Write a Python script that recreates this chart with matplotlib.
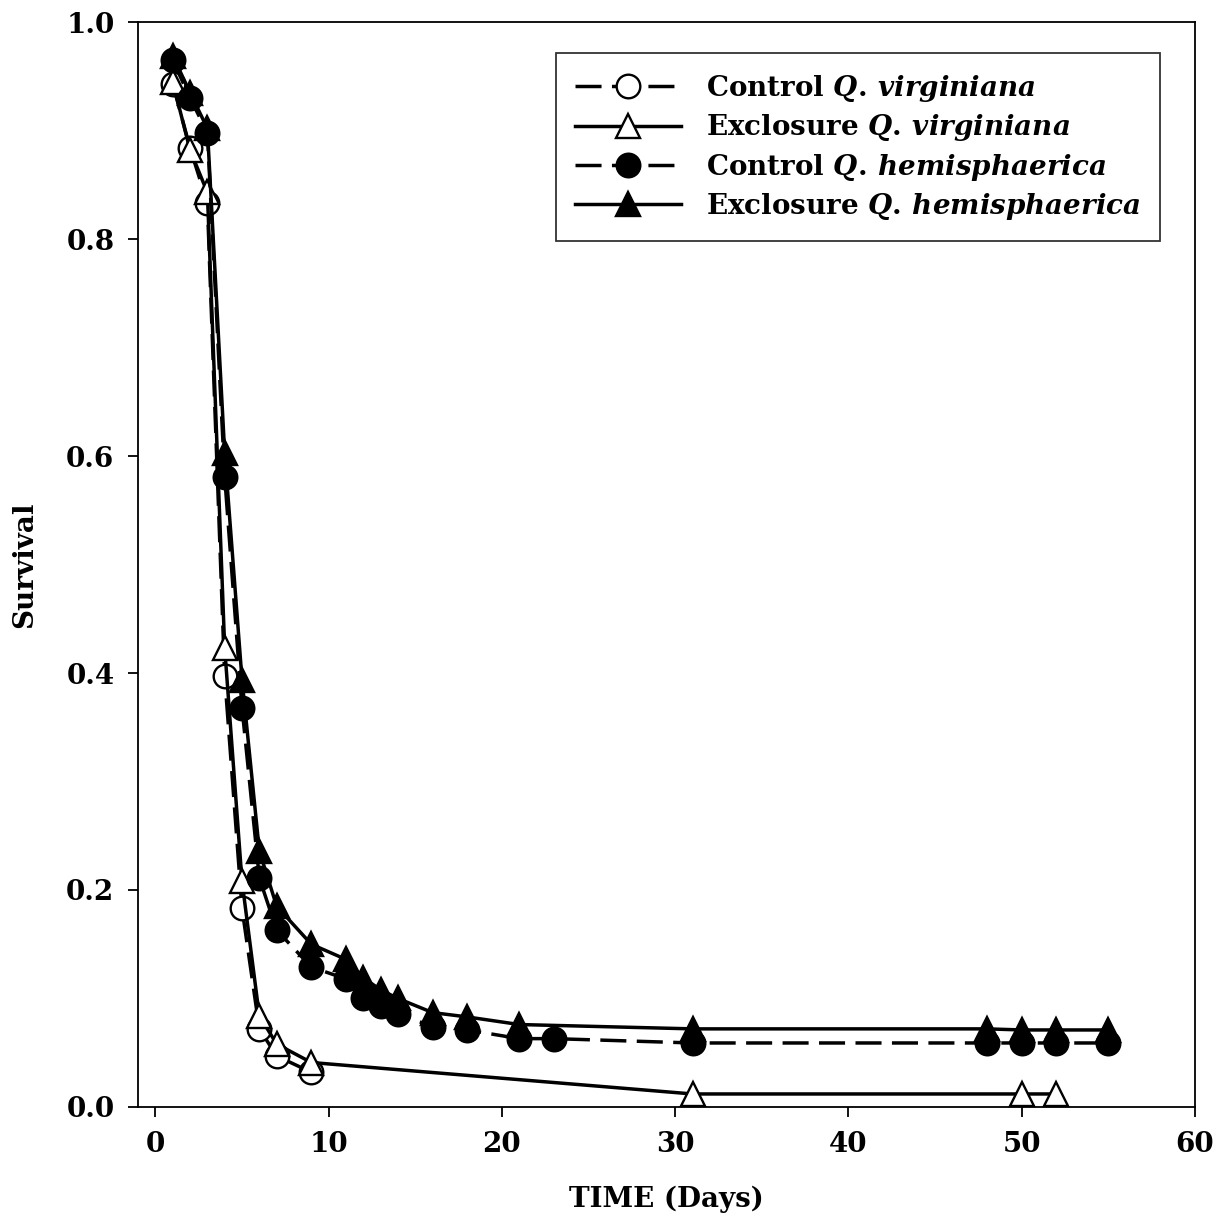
import matplotlib
matplotlib.use("Agg")
import matplotlib.pyplot as plt

plt.rcParams['font.family'] = ['DejaVu Serif']
plt.rcParams['font.weight'] = 'bold'
plt.rcParams['mathtext.fontset'] = 'custom'
plt.rcParams['mathtext.it'] = 'DejaVu Serif:italic:bold'
plt.rcParams['mathtext.bf'] = 'DejaVu Serif:bold'
plt.rcParams['mathtext.rm'] = 'DejaVu Serif:bold'

# Survival over time for each treatment / species
days_cv = [1, 2, 3, 4, 5, 6, 7, 9]
surv_cv = [0.943, 0.884, 0.833, 0.397, 0.183, 0.072, 0.047, 0.032]

days_ev = [1, 2, 3, 4, 5, 6, 7, 9, 31, 50, 52]
surv_ev = [0.945, 0.882, 0.843, 0.423, 0.208, 0.084, 0.058, 0.041, 0.012, 0.012, 0.012]

days_ch = [1, 2, 3, 4, 5, 6, 7, 9, 11, 12, 13, 14, 16, 18, 21, 23, 31, 48, 50, 52, 55]
surv_ch = [0.965, 0.930, 0.898, 0.581, 0.368, 0.211, 0.163, 0.129, 0.118, 0.100,
           0.093, 0.086, 0.074, 0.071, 0.063, 0.063, 0.059, 0.059, 0.059, 0.059, 0.059]

days_eh = [1, 2, 3, 4, 5, 6, 7, 9, 11, 12, 13, 14, 16, 18, 21, 31, 48, 50, 52, 55]
surv_eh = [0.969, 0.935, 0.902, 0.603, 0.394, 0.236, 0.185, 0.150, 0.136, 0.119,
           0.108, 0.100, 0.087, 0.083, 0.076, 0.072, 0.072, 0.071, 0.071, 0.071]

labels = [r"Control $\mathit{Q.\,virginiana}$",
          r"Exclosure $\mathit{Q.\,virginiana}$",
          r"Control $\mathit{Q.\,hemisphaerica}$",
          r"Exclosure $\mathit{Q.\,hemisphaerica}$"]

fig = plt.figure(figsize=(12.25, 12.24), dpi=100)
ax = fig.add_axes([0.1127, 0.0956, 0.8628, 0.8864])

lw = 2.5
ms = 17
mew = 1.7

ax.plot(days_cv, surv_cv, color='black', lw=lw, dashes=(7.5, 3), marker='o', ms=ms,
        mfc='white', mec='black', mew=mew, label=labels[0], zorder=3)
ax.plot(days_ev, surv_ev, color='black', lw=lw, ls='-', marker='^', ms=ms,
        mfc='white', mec='black', mew=mew, label=labels[1], zorder=4)
ax.plot(days_ch, surv_ch, color='black', lw=lw, dashes=(7.5, 3), marker='o', ms=ms,
        mfc='black', mec='black', mew=mew, label=labels[2], zorder=5)
ax.plot(days_eh, surv_eh, color='black', lw=lw, ls='-', marker='^', ms=ms,
        mfc='black', mec='black', mew=mew, label=labels[3], zorder=6)

ax.set_xlim(-1, 60)
ax.set_ylim(0, 1.0)
ax.set_xticks([0, 10, 20, 30, 40, 50, 60])
ax.set_yticks([0.0, 0.2, 0.4, 0.6, 0.8, 1.0])
ax.set_yticklabels(['0.0', '0.2', '0.4', '0.6', '0.8', '1.0'])
ax.tick_params(direction='out', length=7, width=1.3, labelsize=20, pad=10)
for s in ax.spines.values():
    s.set_linewidth(1.3)

ax.set_xlabel('TIME (Days)', fontsize=20, fontweight='bold', labelpad=20)
ax.set_ylabel('Survival', fontsize=20, fontweight='bold', labelpad=20)

leg = ax.legend(loc='upper right', bbox_to_anchor=(0.967, 0.971), fontsize=20,
                handlelength=3.8, handletextpad=0.9, labelspacing=0.3,
                borderpad=0.7, borderaxespad=0.0, frameon=True, fancybox=False,
                edgecolor='black')
leg.get_frame().set_linewidth(1.3)

fig.savefig('out.png', dpi=100)
